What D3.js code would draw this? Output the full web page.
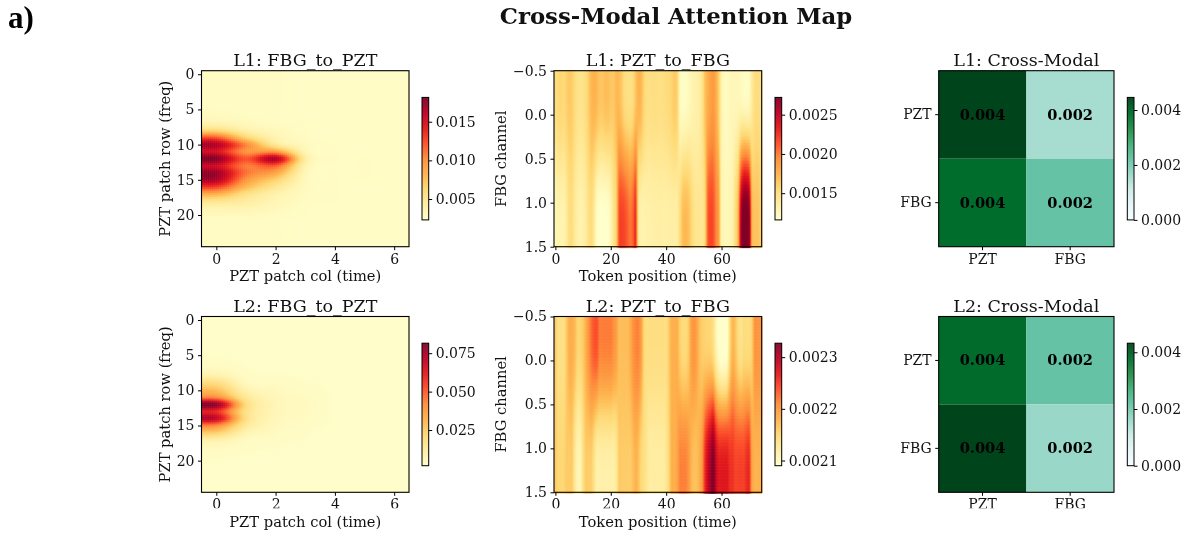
<!DOCTYPE html>
<html>
<head>
<meta charset="utf-8">
<script src="https://cdn.jsdelivr.net/npm/d3@7"></script>
<style>
body { margin: 0; background: white; }
svg { filter: blur(0.45px); }
text { font-family: "DejaVu Serif"; fill: #111; }
</style>
</head>
<body>
<script>
var w = 1184;
var h = 537;

/* Colour stops of the two maps */
var ylOrRd = ["#ffffcc", "#ffeda0", "#fed976", "#feb24c", "#fd8d3c", "#fc4e2a", "#e31a1c", "#bd0026", "#800026"];
var buGn = ["#f7fcfd", "#e5f5f9", "#ccece6", "#99d8c9", "#66c2a4", "#41ae76", "#238b45", "#006d2c", "#00441b"];

/* FBG_to_PZT: 25 rows (freq) x 7 cols (time) */
var l1FbgToPzt = [
    [.0027, .0027, .0027, .0026, .0026, .0026, .0026],
    [.0027, .0027, .0027, .0026, .0026, .0026, .0026],
    [.0027, .0027, .0027, .0026, .0026, .0026, .0026],
    [.0027, .0027, .0027, .0026, .0026, .0026, .0026],
    [.0027, .0027, .0027, .0026, .0026, .0026, .0026],
    [.0028, .0027, .0027, .0026, .0026, .0026, .0026],
    [.0030, .0028, .0027, .0026, .0026, .0026, .0026],
    [.0036, .0031, .0028, .0027, .0026, .0026, .0026],
    [.0062, .0040, .0031, .0027, .0026, .0026, .0026],
    [.0120, .0065, .0036, .0028, .0026, .0026, .0026],
    [.0165, .0105, .0048, .0030, .0027, .0026, .0026],
    [.0148, .0098, .0095, .0034, .0027, .0026, .0026],
    [.0180, .0122, .0165, .0044, .0028, .0027, .0026],
    [.0152, .0108, .0118, .0037, .0027, .0027, .0026],
    [.0172, .0112, .0090, .0033, .0027, .0027, .0026],
    [.0165, .0098, .0066, .0031, .0027, .0027, .0026],
    [.0128, .0080, .0050, .0030, .0027, .0026, .0026],
    [.0085, .0056, .0038, .0029, .0027, .0026, .0026],
    [.0052, .0044, .0034, .0028, .0027, .0026, .0026],
    [.0036, .0036, .0031, .0027, .0026, .0026, .0026],
    [.0030, .0030, .0028, .0027, .0026, .0026, .0026],
    [.0028, .0028, .0027, .0026, .0026, .0026, .0026],
    [.0027, .0027, .0027, .0026, .0026, .0026, .0026],
    [.0027, .0027, .0027, .0026, .0026, .0026, .0026],
    [.0027, .0027, .0027, .0026, .0026, .0026, .0026]
];

var l2FbgToPzt = [
    [.0029, .0029, .0028, .0028, .0028, .0028, .0028],
    [.0029, .0029, .0028, .0028, .0028, .0028, .0028],
    [.0029, .0029, .0028, .0028, .0028, .0028, .0028],
    [.0029, .0029, .0028, .0028, .0028, .0028, .0028],
    [.0030, .0029, .0029, .0028, .0028, .0028, .0028],
    [.0031, .0029, .0029, .0028, .0028, .0028, .0028],
    [.0036, .0030, .0029, .0029, .0028, .0028, .0028],
    [.0052, .0033, .0030, .0029, .0028, .0028, .0028],
    [.0100, .0040, .0034, .0030, .0028, .0028, .0028],
    [.0200, .0058, .0042, .0034, .0028, .0028, .0028],
    [.0290, .0095, .0054, .0040, .0029, .0028, .0028],
    [.0420, .0145, .0064, .0046, .0030, .0028, .0028],
    [.0790, .0210, .0070, .0050, .0030, .0028, .0028],
    [.0590, .0180, .0068, .0048, .0030, .0028, .0028],
    [.0700, .0190, .0064, .0046, .0030, .0028, .0028],
    [.0420, .0140, .0058, .0040, .0029, .0028, .0028],
    [.0250, .0085, .0048, .0034, .0028, .0028, .0028],
    [.0105, .0048, .0038, .0031, .0028, .0028, .0028],
    [.0055, .0036, .0033, .0029, .0028, .0028, .0028],
    [.0038, .0032, .0030, .0029, .0028, .0028, .0028],
    [.0032, .0030, .0029, .0028, .0028, .0028, .0028],
    [.0030, .0029, .0029, .0028, .0028, .0028, .0028],
    [.0029, .0029, .0028, .0028, .0028, .0028, .0028],
    [.0029, .0029, .0028, .0028, .0028, .0028, .0028],
    [.0029, .0029, .0028, .0028, .0028, .0028, .0028]
];

/* PZT_to_FBG: 2 rows (channel) x 75 cols (token) */
var l1PztToFbgTop = [
    .00150, .00152, .00155, .00152, .00158, .00162, .00160, .00152, .00145, .00143,
    .00145, .00150, .00160, .00170, .00172, .00168, .00162, .00162, .00165, .00165,
    .00162, .00162, .00170, .00172, .00165, .00155, .00152, .00150, .00155, .00168,
    .00172, .00168, .00155, .00148, .00147, .00148, .00148, .00147, .00147, .00148,
    .00150, .00152, .00156, .00160, .00155, .00125, .00122, .00122, .00125, .00128,
    .00130, .00132, .00135, .00145, .00165, .00178, .00185, .00188, .00178, .00160,
    .00130, .00122, .00122, .00124, .00125, .00126, .00128, .00130, .00130, .00129,
    .00130, .00140, .00150, .00152, .00150
];
var l1PztToFbgBottom = [
    .00128, .00130, .00130, .00130, .00138, .00150, .00150, .00140, .00133, .00130,
    .00132, .00138, .00148, .00152, .00140, .00122, .00118, .00117, .00118, .00120,
    .00128, .00145, .00160, .00210, .00215, .00212, .00205, .00198, .00205, .00218,
    .00145, .00132, .00131, .00132, .00132, .00133, .00133, .00134, .00134, .00133,
    .00133, .00134, .00135, .00135, .00136, .00150, .00165, .00168, .00165, .00155,
    .00145, .00142, .00142, .00142, .00155, .00205, .00215, .00212, .00195, .00180,
    .00130, .00125, .00124, .00126, .00130, .00150, .00172, .00245, .00270, .00272,
    .00255, .00175, .00165, .00165, .00160
];
var l2PztToFbgTop = [
    .00216, .00214, .00214, .00214, .00216, .00218, .00218, .00217, .00215, .00215,
    .00216, .00218, .00220, .00222, .00223, .00223, .00221, .00221, .00221, .00221,
    .00221, .00220, .00219, .00217, .00217, .00217, .00217, .00218, .00220, .00221,
    .00221, .00219, .00215, .00214, .00214, .00214, .00214, .00214, .00214, .00214,
    .00214, .00216, .00218, .00218, .00218, .00216, .00215, .00215, .00216, .00219,
    .00220, .00219, .00217, .00216, .00216, .00216, .00216, .00215, .00212, .00210,
    .00209, .00209, .00210, .00215, .00218, .00217, .00215, .00214, .00215, .00215,
    .00215, .00216, .00220, .00220, .00220
];
var l2PztToFbgBottom = [
    .00216, .00215, .00215, .00215, .00216, .00216, .00216, .00213, .00211, .00211,
    .00214, .00216, .00216, .00216, .00214, .00212, .00212, .00212, .00212, .00212,
    .00212, .00212, .00213, .00216, .00216, .00216, .00216, .00216, .00217, .00218,
    .00217, .00215, .00214, .00213, .00212, .00212, .00212, .00212, .00212, .00212,
    .00213, .00215, .00218, .00218, .00219, .00221, .00221, .00221, .00220, .00218,
    .00217, .00217, .00218, .00220, .00225, .00228, .00230, .00232, .00228, .00226,
    .00226, .00226, .00226, .00225, .00225, .00224, .00224, .00224, .00224, .00225,
    .00225, .00219, .00218, .00218, .00218
];

/* Cross-modal 2 x 2 matrices */
var modalities = ["PZT", "FBG"];
var l1CrossModal = [[.00446, .00152], [.0039, .00223]];
var l2CrossModal = [[.0038, .00216], [.00432, .00162]];

/* Tick labels */
var patchColTicks = [0, 2, 4, 6];
var patchRowTicks = [0, 5, 10, 15, 20];
var tokenTicks = [0, 20, 40, 60];
var channelTicks = [-0.5, 0, 0.5, 1, 1.5];

var svg = d3.select("body")
    .append("svg")
    .attr("width", w)
    .attr("height", h)
    .style("display", "block");

svg.append("text")
    .attr("x", 676)
    .attr("y", 24)
    .attr("text-anchor", "middle")
    .style("font-size", "22.8px")
    .style("font-weight", "bold")
    .text("Cross-Modal Attention Map");

svg.append("text")
    .attr("x", 8)
    .attr("y", 27.6)
    .style("font-family", "Liberation Serif")
    .style("font-size", "31px")
    .style("font-weight", "bold")
    .style("fill", "black")
    .text("a)");

/*
    imshow style smoothing, Catmull-Rom between the data cells
    with the edge cells repeated.
*/
function cubic(a, b, c, d, t) {
    return b + 0.5 * t * (c - a + t * (2 * a - 5 * b + 4 * c - d + t * (3 * (b - c) + d - a)));
}

function sample(m, r, c) {
    var r0 = Math.floor(r), c0 = Math.floor(c);
    var at = function(i, j) {
        var row = m[Math.max(0, Math.min(m.length - 1, i))];
        return row[Math.max(0, Math.min(row.length - 1, j))];
    };
    var rows = [-1, 0, 1, 2].map(function(k) {
        return cubic(at(r0 + k, c0 - 1), at(r0 + k, c0), at(r0 + k, c0 + 1), at(r0 + k, c0 + 2), c - c0);
    });
    return cubic(rows[0], rows[1], rows[2], rows[3], r - r0);
}

function mapScale(stops, vmin, vmax) {
    return d3.scaleLinear()
        .domain(stops.map(function(s, i) { return vmin + (vmax - vmin) * i / (stops.length - 1); }))
        .range(stops)
        .clamp(true);
}

function styleAxis(g) {
    g.select(".domain").remove();
    g.selectAll("line").attr("stroke", "black").attr("stroke-width", 1);
    g.selectAll("text").style("font-size", "14px");
}

/* Colourbar beside a panel, with its own axis */
function colorbar(x, y0, color, vmin, vmax, ticks, fmt) {
    var cw = 6.7, ch = 122.5;
    var cy = d3.scaleLinear().domain([vmin, vmax]).range([y0 + ch, y0]);
    var g = svg.append("g");

    g.selectAll("rect.step")
        .data(d3.range(0, 123))
        .enter()
        .append("rect")
        .attr("class", "step")
        .attr("x", x)
        .attr("y", function(d) { return y0 + d; })
        .attr("width", cw)
        .attr("height", 1.5)
        .attr("fill", function(d) { return color(cy.invert(y0 + d + 0.5)); });

    g.append("rect")
        .attr("x", x)
        .attr("y", y0)
        .attr("width", cw)
        .attr("height", ch)
        .attr("fill", "none")
        .attr("stroke", "black")
        .attr("stroke-width", 1);

    g.append("g")
        .attr("transform", "translate(" + (x + cw) + ",0)")
        .call(d3.axisRight(cy).tickValues(ticks).tickFormat(fmt).tickSize(3.5).tickPadding(3.5))
        .call(styleAxis);
}

/* Common frame, title, axes of one panel */
function frame(p, xScale, yScale, xAxis, yAxis) {
    var g = svg.append("g");

    g.append("rect")
        .attr("x", p.x0)
        .attr("y", p.y0)
        .attr("width", p.x1 - p.x0)
        .attr("height", p.y1 - p.y0)
        .attr("fill", "none")
        .attr("stroke", "black")
        .attr("stroke-width", 1.1);

    var gx = g.append("g")
        .attr("transform", "translate(0," + p.y1 + ")")
        .call(xAxis.scale(xScale).tickSize(3.5).tickPadding(3.5))
        .call(styleAxis);
    if (p.clipBottom) {
        gx.attr("clip-path", "url(#cut)");
    }

    g.append("g")
        .attr("transform", "translate(" + p.x0 + ",0)")
        .call(yAxis.scale(yScale).tickSize(3.5).tickPadding(3.5))
        .call(styleAxis);

    g.append("text")
        .attr("x", (p.x0 + p.x1) / 2)
        .attr("y", p.y0 - 5)
        .attr("text-anchor", "middle")
        .style("font-size", "17.5px")
        .text(p.title);

    if (p.xlabel) {
        g.append("text")
            .attr("x", (p.x0 + p.x1) / 2)
            .attr("y", p.y1 + 34.5)
            .attr("text-anchor", "middle")
            .style("font-size", "14.7px")
            .text(p.xlabel);
    }
    if (p.ylabel) {
        g.append("text")
            .attr("transform", "translate(" + p.ylabelX + "," + (p.y0 + p.y1) / 2 + ") rotate(-90)")
            .attr("text-anchor", "middle")
            .style("font-size", "14.7px")
            .text(p.ylabel);
    }
}

/* One smoothed heatmap from a value matrix */
function heatmap(p, matrix, vmin, vmax, xTicks, xFormat, yTicks, yFormat, cbTicks, cbFormat, stepX, stepY) {
    var nr = matrix.length, nc = matrix[0].length;
    var xScale = d3.scaleLinear().domain([-0.5, nc - 0.5]).range([p.x0, p.x1]);
    var yScale = d3.scaleLinear().domain([nr - 0.5, -0.5]).range([p.y1, p.y0]);
    var color = mapScale(ylOrRd, vmin, vmax);

    var cells = [];
    d3.range(p.x0, p.x1, stepX).forEach(function(px) {
        d3.range(p.y0, p.y1, stepY).forEach(function(py) {
            cells.push({
                px: px,
                py: py,
                v: sample(matrix, yScale.invert(py + stepY / 2), xScale.invert(px + stepX / 2))
            });
        });
    });

    svg.append("g")
        .selectAll("rect")
        .data(cells)
        .enter()
        .append("rect")
        .attr("x", function(d) { return d.px; })
        .attr("y", function(d) { return d.py; })
        .attr("width", stepX + 0.4)
        .attr("height", stepY + 0.4)
        .attr("fill", function(d) { return color(d.v); });

    frame(p, xScale, yScale,
        d3.axisBottom().tickValues(xTicks).tickFormat(xFormat),
        d3.axisLeft().tickValues(yTicks).tickFormat(yFormat));

    colorbar(p.cbx, p.y0 + 26.7, color, vmin, vmax, cbTicks, cbFormat);
}

/* 2 x 2 cross-modal panel */
function crossPanel(p, matrix, vmax, cbTicks) {
    var xScale = d3.scaleBand().domain(modalities).range([p.x0, p.x1]);
    var yScale = d3.scaleBand().domain(modalities).range([p.y0, p.y1]);
    var color = mapScale(buGn, 0, vmax);

    var cells = [];
    matrix.forEach(function(row, i) {
        row.forEach(function(v, j) {
            cells.push({ row: modalities[i], col: modalities[j], v: v });
        });
    });

    svg.append("g")
        .selectAll("rect")
        .data(cells)
        .enter()
        .append("rect")
        .attr("x", function(d) { return xScale(d.col); })
        .attr("y", function(d) { return yScale(d.row); })
        .attr("width", xScale.bandwidth())
        .attr("height", yScale.bandwidth())
        .attr("fill", function(d) { return color(d.v); });

    svg.append("g")
        .selectAll("text")
        .data(cells)
        .enter()
        .append("text")
        .attr("x", function(d) { return xScale(d.col) + xScale.bandwidth() / 2; })
        .attr("y", function(d) { return yScale(d.row) + yScale.bandwidth() / 2 + 5; })
        .attr("text-anchor", "middle")
        .style("font-size", "14.6px")
        .style("font-weight", "bold")
        .style("fill", "black")
        .text(function(d) { return d3.format(".3f")(d.v); });

    frame(p, xScale, yScale, d3.axisBottom(), d3.axisLeft());
    colorbar(p.cbx, p.y0 + 26.7, color, 0, vmax, cbTicks, d3.format(".3f"));
}

/* the lower row has its tick labels cut off in the reference */
svg.append("clipPath")
    .attr("id", "cut")
    .append("rect")
    .attr("x", -10)
    .attr("y", -5)
    .attr("width", w)
    .attr("height", 21);

var rowsY = [[70.7, 246.7], [316.5, 492.3]];
var f1 = d3.format(".1f");
var f0 = d3.format("d");

heatmap({ x0: 201.5, x1: 409, y0: rowsY[0][0], y1: rowsY[0][1], cbx: 422, title: "L1: FBG_to_PZT",
          xlabel: "PZT patch col (time)", ylabel: "PZT patch row (freq)", ylabelX: 170 },
    l1FbgToPzt, .0023, .01815, patchColTicks, f0, patchRowTicks, f0, [.005, .01, .015], d3.format(".3f"), 2, 2);

heatmap({ x0: 201.5, x1: 409, y0: rowsY[1][0], y1: rowsY[1][1], cbx: 422, title: "L2: FBG_to_PZT", clipBottom: true,
          xlabel: "PZT patch col (time)", ylabel: "PZT patch row (freq)", ylabelX: 170 },
    l2FbgToPzt, .0018, .0815, patchColTicks, f0, patchRowTicks, f0, [.025, .05, .075], d3.format(".3f"), 2, 2);

heatmap({ x0: 554, x1: 761.7, y0: rowsY[0][0], y1: rowsY[0][1], cbx: 775, title: "L1: PZT_to_FBG",
          xlabel: "Token position (time)", ylabel: "FBG channel", ylabelX: 506 },
    [l1PztToFbgTop, l1PztToFbgBottom], .00116, .00272, tokenTicks, f0, channelTicks, f1, [.0015, .002, .0025], d3.format(".4f"), 1, 3);

heatmap({ x0: 554, x1: 761.7, y0: rowsY[1][0], y1: rowsY[1][1], cbx: 775, title: "L2: PZT_to_FBG", clipBottom: true,
          xlabel: "Token position (time)", ylabel: "FBG channel", ylabelX: 506 },
    [l2PztToFbgTop, l2PztToFbgBottom], .00209, .002327, tokenTicks, f0, channelTicks, f1, [.0021, .0022, .0023], d3.format(".4f"), 1, 3);

crossPanel({ x0: 938.7, x1: 1114, y0: rowsY[0][0], y1: rowsY[0][1], cbx: 1127.3, title: "L1: Cross-Modal" },
    l1CrossModal, .00446, [0, .002, .004]);

crossPanel({ x0: 938.7, x1: 1114, y0: rowsY[1][0], y1: rowsY[1][1], cbx: 1127.3, title: "L2: Cross-Modal", clipBottom: true },
    l2CrossModal, .00432, [0, .002, .004]);
</script>
</body>
</html>
